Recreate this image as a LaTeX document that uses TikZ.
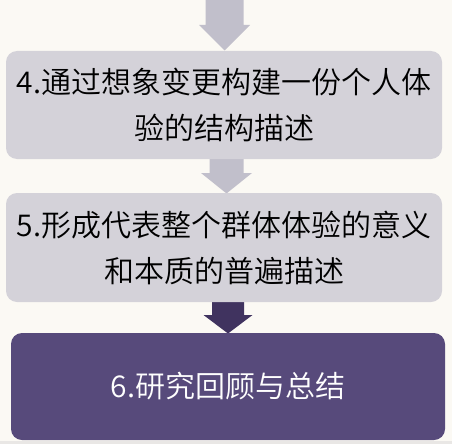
\documentclass[tikz,border=0pt]{standalone}
\usepackage{fontspec}
\newfontfamily\cjk{Noto Sans CJK SC DemiLight}
\definecolor{bgc}{HTML}{FBF9F4}
\definecolor{boxgray}{HTML}{D4D2D9}
\definecolor{arrgray}{HTML}{C1BFCB}
\definecolor{arrdark}{HTML}{40335F}
\definecolor{boxpurple}{HTML}{574A7B}
\definecolor{stripc}{HTML}{E9E7E5}
\tikzset{
  stepbox/.style={rectangle, rounded corners=11pt, inner sep=0pt, align=center,
    font=\cjk\fontsize{30}{46}\selectfont},
  graybox/.style={stepbox, fill=boxgray, text=black},
  purplebox/.style={stepbox, fill=boxpurple, text=white},
}
\newcommand{\blkarrow}[7]{%
  % #1 colour, #2 cx, #3 top, #4 head start, #5 tip, #6 half shaft, #7 half head
  \fill[#1] ({#2-#6},#3) -- ({#2+#6},#3) -- ({#2+#6},#4) -- ({#2+#7},#4)
    -- (#2,#5) -- ({#2-#7},#4) -- ({#2-#6},#4) -- cycle;}
\begin{document}
\begin{tikzpicture}[x=1pt,y=-1pt]
\useasboundingbox (0,0) rectangle (452,444);
\fill[bgc] (0,0) rectangle (452,444);
\fill[stripc] (0,441) rectangle (452,444);
% arrows
\blkarrow{arrgray}{224.5}{-2}{25}{50.5}{19}{25.5}
\blkarrow{arrgray}{226.5}{153}{173}{193.5}{17}{25.5}
\blkarrow{arrdark}{228}{297}{315}{333.5}{16}{24.5}
% boxes
\node[graybox, minimum width=436pt, minimum height=108pt] (s4) at (224,105)
  {4.通过想象变更构建一份个人体\\验的结构描述};
\node[graybox, minimum width=436pt, minimum height=109pt] (s5) at (224,247.5)
  {5.形成代表整个群体体验的意义\\和本质的普遍描述};
\node[purplebox, minimum width=434pt, minimum height=107pt] (s6) at (228,386.5)
  {6.研究回顾与总结};
\end{tikzpicture}
\end{document}
